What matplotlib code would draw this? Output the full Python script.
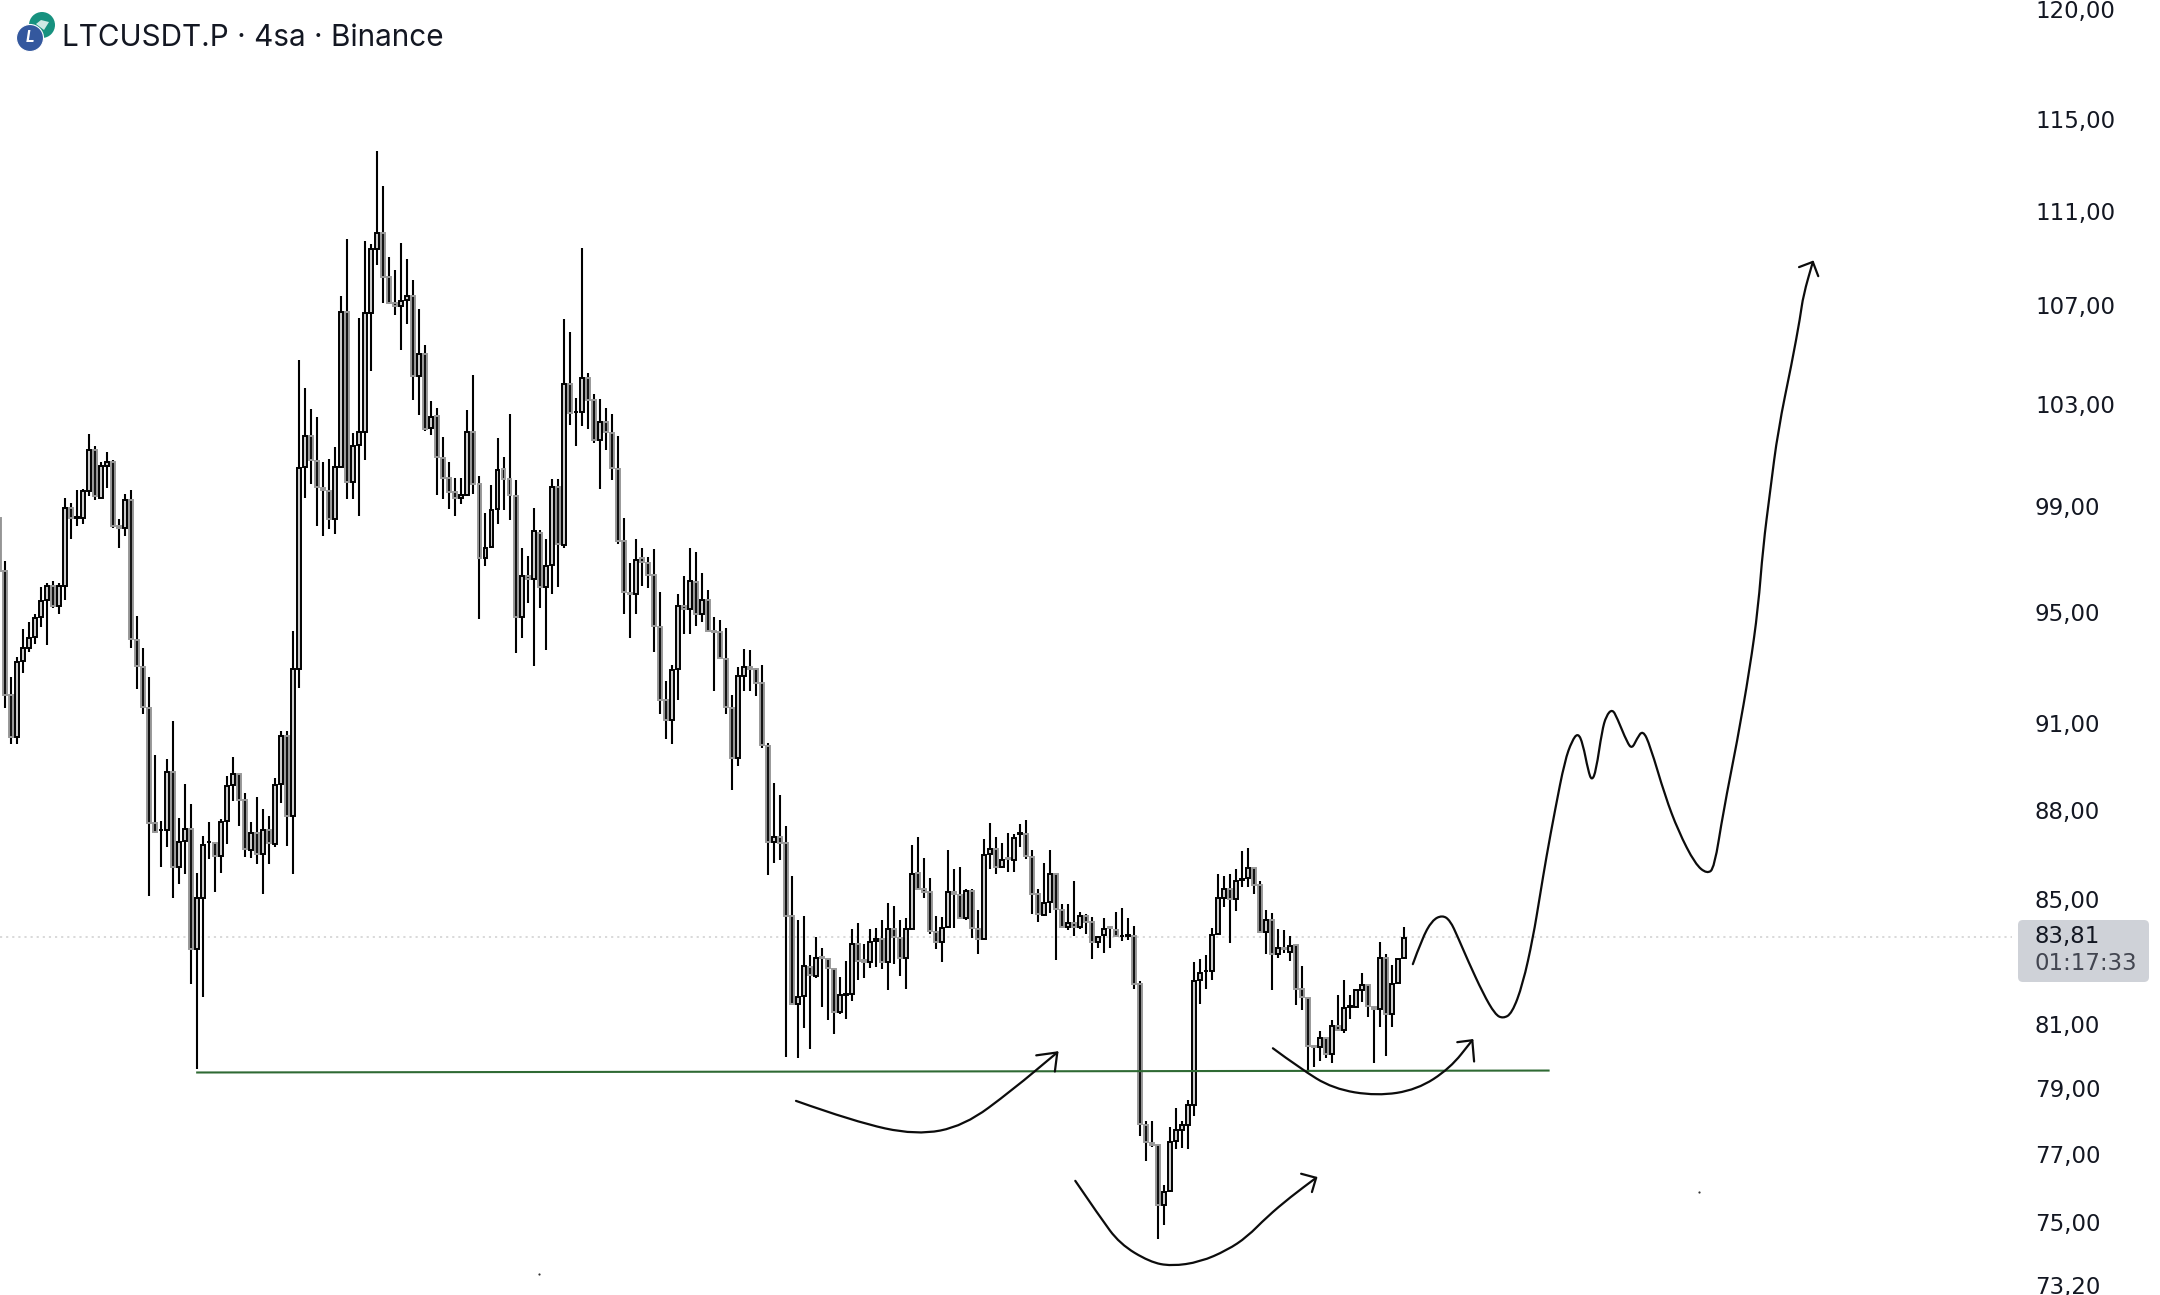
import numpy as np
import matplotlib
matplotlib.use("Agg")
import matplotlib.pyplot as plt
from matplotlib.patches import Circle, FancyBboxPatch, PathPatch, Polygon
from matplotlib.path import Path
from matplotlib.ticker import NullLocator
from matplotlib.transforms import IdentityTransform, ScaledTranslation

W, H = 2160, 1295

TITLE = "LTCUSDT.P · 4sa · Binance"
TICKS = [120, 115, 111, 107, 103, 99, 95, 91, 88, 85, 81, 79, 77, 75, 73.2]
TICK_LABELS = ["120,00", "115,00", "111,00", "107,00", "103,00", "99,00", "95,00", "91,00",
               "88,00", "85,00", "81,00", "79,00", "77,00", "75,00", "73,20"]
LAST_PRICE = 83.81
LAST_PRICE_LABEL = "83,81"
COUNTDOWN = "01:17:33"

# first bar sits half off the left edge, then bars 0..233
opens = [98.61,
    96.60,92.06,90.58,93.29,93.76,94.16,94.89,95.51,96.04,95.29,
    96.04,98.99,98.61,98.61,99.64,101.22,99.37,100.59,100.74,98.30,
    98.23,99.29,94.05,93.07,91.60,87.60,87.37,87.37,89.36,86.12,
    87.00,87.40,83.42,85.08,86.96,86.93,86.49,87.67,88.90,89.29,
    88.38,86.69,87.27,86.56,87.37,86.89,88.94,90.62,87.84,92.99,
    100.55,101.77,100.78,99.76,99.64,98.57,100.55,106.77,99.96,101.41,
    101.92,106.73,109.43,110.11,108.24,107.14,107.02,107.30,107.43,104.16,
    105.06,102.08,102.55,100.90,100.15,99.60,99.37,99.48,101.92,99.92,
    97.06,97.51,98.95,100.47,100.11,99.44,94.89,96.41,96.30,98.04,
    96.00,96.83,99.80,97.55,103.85,102.71,102.71,104.08,103.22,101.61,
    102.35,101.88,100.47,97.70,95.77,95.73,97.06,96.90,96.45,94.53,
    91.88,91.18,92.99,95.29,95.18,96.19,95.00,95.51,94.38,94.34,
    93.36,91.60,89.85,92.75,93.07,93.00,92.49,90.27,86.96,87.13,
    86.93,84.49,81.68,81.93,82.84,82.55,83.16,83.10,82.78,81.43,
    81.97,82.00,83.59,83.07,83.00,83.68,83.75,83.00,84.07,83.78,
    83.13,84.07,85.92,85.38,85.28,83.98,83.65,84.14,85.28,85.18,
    84.43,85.31,84.07,83.75,86.56,86.73,86.12,86.42,86.36,87.23,
    87.23,86.46,85.21,84.53,84.95,85.89,84.69,84.14,84.27,84.14,
    84.49,84.30,83.65,83.88,84.14,84.04,83.84,83.84,83.84,82.29,
    77.94,77.40,77.34,75.54,75.96,77.46,77.79,77.94,78.54,82.42,
    82.71,82.71,83.91,85.11,85.38,85.05,85.68,85.75,86.09,85.52,
    83.98,84.36,83.26,83.46,83.33,83.55,82.13,81.87,80.34,80.31,
    80.59,80.09,80.99,80.84,81.58,81.58,82.10,82.26,81.58,81.52,
    83.13,81.34,82.35,83.13]

closes = [96.60,
    92.06,90.58,93.26,93.76,94.13,94.85,95.47,96.04,95.29,96.04,
    98.99,98.61,98.62,99.64,101.22,99.44,100.59,100.74,98.30,98.23,
    99.29,94.09,93.11,91.63,87.60,87.30,87.38,89.36,86.12,86.96,
    87.40,83.42,85.08,86.86,86.97,86.49,87.63,88.87,89.29,88.38,
    86.73,87.27,86.56,87.37,86.93,88.90,90.62,87.84,92.99,100.51,
    101.77,100.82,99.80,99.68,98.57,100.55,106.77,99.96,101.37,101.92,
    106.73,109.43,110.11,108.24,107.14,107.02,107.26,107.43,104.16,105.06,
    102.04,102.51,100.94,100.15,99.60,99.37,99.48,101.92,99.92,97.06,
    97.47,98.91,100.43,100.11,99.48,94.89,96.41,96.30,98.08,96.00,
    96.79,99.80,97.59,103.85,102.67,102.72,104.08,103.22,101.61,102.35,
    101.92,100.51,97.70,95.81,95.73,97.02,96.94,96.45,94.56,91.88,
    91.18,92.96,95.29,95.18,96.22,95.00,95.51,94.38,94.34,93.40,
    91.63,89.85,92.75,93.07,93.00,92.49,90.30,86.96,87.13,86.93,
    84.49,81.68,81.90,82.87,82.58,83.13,83.13,82.81,81.43,81.97,
    82.00,83.59,83.04,83.00,83.65,83.75,83.00,84.07,83.81,83.13,
    84.07,85.89,85.38,85.28,84.01,83.65,84.11,85.28,85.21,84.43,
    85.31,84.11,83.75,86.52,86.73,86.12,86.36,86.39,87.09,87.27,
    86.49,85.21,84.56,84.92,85.89,84.72,84.14,84.27,84.14,84.49,
    84.30,83.65,83.81,84.07,84.11,83.84,83.85,83.88,82.29,77.97,
    77.43,77.34,75.54,75.93,77.43,77.79,77.94,78.54,82.39,82.65,
    82.72,83.88,85.08,85.38,85.05,85.65,85.72,86.09,85.52,83.98,
    84.36,83.26,83.46,83.42,83.52,82.16,81.90,80.34,80.31,80.59,
    80.09,80.99,80.84,81.55,81.62,82.10,82.26,81.62,81.52,83.13,
    81.34,82.32,83.10,83.78]

highs = [98.61,
    96.98,92.71,93.41,94.45,94.71,95.00,96.00,96.15,96.22,96.15,
    99.37,99.17,99.68,99.72,101.85,101.37,100.74,101.14,100.82,98.57,
    99.53,99.68,94.93,93.76,92.71,89.95,87.67,89.81,91.14,87.77,
    88.94,88.24,85.92,87.16,87.63,86.93,87.74,89.21,89.88,89.29,
    88.62,87.63,88.48,88.07,87.84,89.15,90.79,90.79,94.38,104.81,
    103.67,102.83,102.51,100.74,100.86,101.33,107.47,109.85,101.88,106.53,
    109.77,109.64,113.68,112.15,109.09,108.54,109.68,109.00,108.11,106.89,
    105.42,103.18,102.90,101.73,100.74,100.15,100.15,102.79,104.20,100.22,
    98.80,99.88,101.69,100.94,102.63,100.04,97.47,97.17,98.99,98.15,
    97.78,100.08,100.08,106.49,105.95,103.30,109.47,104.28,103.46,103.26,
    102.87,102.63,101.77,98.61,96.90,97.81,97.44,97.13,97.40,95.81,
    92.57,93.14,95.73,96.41,97.47,97.29,96.53,95.88,94.89,94.78,
    94.49,92.06,93.07,93.73,93.69,93.04,93.14,90.37,88.97,88.55,
    87.50,85.82,84.36,84.49,83.23,83.81,83.46,83.10,82.78,82.52,
    83.04,84.07,84.27,83.59,84.07,84.11,84.36,84.92,84.82,84.36,
    84.43,86.86,87.13,86.42,85.75,84.49,84.46,86.69,86.05,86.12,
    85.38,85.38,84.69,87.06,87.60,87.13,86.93,87.27,87.23,87.57,
    87.70,86.69,85.38,86.26,86.69,85.89,84.88,84.88,85.65,84.62,
    84.56,84.46,83.84,84.43,84.14,84.62,84.75,84.43,84.17,82.39,
    78.06,78.06,77.34,76.14,77.88,78.45,78.06,78.69,83.00,83.10,
    83.23,84.11,85.89,85.82,85.89,86.05,86.66,86.76,86.09,85.65,
    84.69,84.59,84.07,84.04,83.84,83.55,82.87,81.87,80.34,80.81,
    80.59,81.18,81.97,82.42,81.97,82.10,82.65,82.26,81.58,83.65,
    83.26,82.91,83.10,84.14]

lows = [96.60,
    91.60,90.34,90.34,92.86,93.62,93.91,94.53,93.87,95.22,95.00,
    95.51,97.78,98.30,98.38,99.44,99.29,99.37,99.76,98.23,97.44,
    97.89,93.76,92.28,91.39,85.15,87.27,86.12,86.79,85.08,85.55,
    85.89,82.29,79.63,81.90,86.39,85.28,85.92,86.89,88.34,87.50,
    86.46,86.42,86.22,85.21,86.22,86.79,88.27,86.83,85.89,92.31,
    99.37,99.92,98.30,97.89,98.19,98.00,100.51,99.33,99.33,98.68,
    100.82,104.36,108.75,107.14,107.10,106.65,105.22,106.28,103.22,102.59,
    101.96,101.80,99.48,99.33,98.95,98.68,99.14,99.44,99.52,94.82,
    96.79,97.44,98.38,98.91,98.53,93.58,94.13,95.40,93.11,95.22,
    93.69,95.73,96.00,97.47,102.20,101.37,102.16,102.04,101.49,99.72,
    101.22,100.04,97.59,95.00,94.13,95.00,96.04,95.96,93.62,91.39,
    90.51,90.34,91.88,94.27,94.27,94.56,94.71,94.38,92.20,93.36,
    91.39,88.73,89.57,92.20,92.20,92.02,90.20,85.85,86.26,86.36,
    80.00,81.65,79.97,80.90,80.25,82.49,81.58,81.18,80.71,81.34,
    81.21,81.77,82.42,82.49,82.81,82.84,82.78,82.10,82.94,82.55,
    82.16,84.07,85.38,85.11,83.91,83.42,83.00,84.11,84.11,84.40,
    84.36,83.78,83.26,83.75,86.05,85.89,86.09,85.95,85.95,86.79,
    86.39,84.56,84.30,84.49,84.59,83.07,84.11,84.04,83.84,84.07,
    83.91,83.10,83.46,83.29,83.46,83.81,83.68,83.71,82.16,77.61,
    76.86,77.28,74.56,74.97,75.93,77.22,77.25,77.22,78.21,81.68,
    82.16,82.42,83.88,84.79,83.62,84.66,85.45,85.45,85.21,83.94,
    83.26,82.10,83.13,83.29,83.04,81.65,81.49,79.56,79.69,79.87,
    79.97,79.81,80.81,80.75,81.21,81.58,81.74,81.27,79.81,80.93,
    80.03,80.93,82.32,83.10]

# horizontal support line
support_x = [32, 257]
support_y = [79.53, 79.59]

# hand drawn forecast, bar position / price
forecast_x = [234.4,235.9,237.6,239.3,240.6,241.9,243.6,246.1,248.1,249.4,250.9,252.7,254.4,255.6,
    256.6,258.1,259.7,260.9,261.9,262.7,263.6,264.2,264.9,265.9,266.6,267.6,268.4,270.1,270.9,
    271.7,272.7,273.9,276.4,278.6,281.4,283.4,284.6,286.1,288.4,290.5,291.9,292.7,293.9,295.2,
    297.5,298.9,299.4,301.0]
forecast_y = [82.94,83.75,84.36,84.53,84.36,83.81,83.04,82.00,81.34,81.21,81.37,82.29,83.78,85.21,
    86.42,88.07,89.74,90.44,90.72,90.34,89.39,89.04,89.39,90.79,91.32,91.56,91.25,90.37,90.16,
    90.51,90.82,90.27,88.52,87.33,86.22,85.89,86.09,88.00,90.41,93.00,95.22,97.47,99.64,102.00,
    104.69,106.57,107.47,108.88]
forecast_head_x = [298.7, 301.0, 301.9]
forecast_head_y = [108.66, 108.88, 108.28]

swing1_x = [131.7,141.4,151.7,159.7,167.8,175.2]
swing1_y = [78.66,78.03,77.62,77.90,79.00,80.15]
swing1_head_x = [171.7, 175.2, 174.8]
swing1_head_y = [80.06, 80.15, 79.56]

swing2_x = [178.2,182.3,185.6,190.6,194.2,199.0,203.5,206.8,210.1,214.0,218.3]
swing2_y = [76.26,75.20,74.42,73.90,73.78,73.90,74.24,74.62,75.20,75.78,76.35]
swing2_head_x = [215.8, 218.3, 217.6]
swing2_head_y = [76.47, 76.35, 75.93]

swing3_x = [211.1,215.6,221.1,228.4,235.1,240.6,244.3]
swing3_y = [80.28,79.66,79.03,78.81,79.00,79.66,80.53]
swing3_head_x = [241.8, 244.3, 244.6]
swing3_head_y = [80.47, 80.53, 79.87]

specks_x = [88.9, 282.1]
specks_y = [73.57, 75.93]


def smooth_stroke(ax, xs, ys):
	# quadratic curve through the midpoints so the pen line has no corners
	pts = list(zip(xs, ys))
	verts = [pts[0]]
	codes = [Path.MOVETO]
	for i in range(1, len(pts) - 1):
		mid = ((pts[i][0] + pts[i + 1][0]) / 2, (pts[i][1] + pts[i + 1][1]) / 2)
		verts += [pts[i], mid]
		codes += [Path.CURVE3, Path.CURVE3]
	verts.append(pts[-1])
	codes.append(Path.LINETO)
	ax.add_patch(PathPatch(Path(verts, codes), fill=False, edgecolor="#0c0c0c", linewidth=1.6,
		capstyle="round", joinstyle="round", zorder=6))


def draw_candles(ax):
	xs = np.arange(-1, len(opens) - 1)
	o = np.array(opens)
	c = np.array(closes)
	up = c >= o
	ax.vlines(xs, lows, highs, color="#000000", linewidth=1.5, zorder=2)
	bottoms = np.minimum(o, c)
	heights = np.abs(c - o)
	ax.bar(xs[up], heights[up], bottom=bottoms[up], width=0.66, facecolor="#cccccc",
		edgecolor="#000000", linewidth=1.4, zorder=3)
	ax.bar(xs[~up], heights[~up], bottom=bottoms[~up], width=0.66, facecolor="#141414",
		edgecolor="#999999", linewidth=1.4, zorder=3)


def draw_header(fig):
	px = IdentityTransform()
	fig.add_artist(Circle((42, H - 25), 13, facecolor="#17917f", edgecolor="none", transform=px))
	fig.add_artist(Polygon([(36, H - 24), (41, H - 20), (49, H - 22), (44, H - 30)], closed=True,
		facecolor="#cfe9e4", edgecolor="none", transform=px))
	fig.add_artist(Circle((30, H - 38), 13.5, facecolor="#34589e", edgecolor="white", linewidth=0.8, transform=px))
	fig.text(30 / W, 1 - 38 / H, "L", color="white", fontsize=11, fontweight="bold", fontstyle="italic",
		ha="center", va="center")
	fig.text(62 / W, 1 - 38 / H, TITLE, color="#131722", fontsize=21.4, ha="left", va="center")


def draw_badge(fig):
	px = IdentityTransform()
	fig.add_artist(FancyBboxPatch((2021, H - 979), 125, 56, boxstyle="round,pad=3,rounding_size=5",
		facecolor="#cfd2d8", edgecolor="none", transform=px))
	fig.text(2035 / W, 1 - 937 / H, LAST_PRICE_LABEL, color="#131722", fontsize=16.5,
		family="DejaVu Sans", ha="left", va="center")
	fig.text(2035 / W, 1 - 963 / H, COUNTDOWN, color="#434651", fontsize=16.5,
		family="DejaVu Sans", ha="left", va="center")


def main():
	plt.rcParams["font.family"] = ["Inter", "DejaVu Sans"]
	fig = plt.figure(figsize=(W / 100, H / 100), dpi=100, facecolor="white")
	ax = fig.add_axes([0, 0, 1, 1], facecolor="white")

	ax.set_yscale("log")
	ax.set_xlim(-0.8325, 358.8)
	ax.set_ylim(72.96, 120.51)
	ax.yaxis.set_minor_locator(NullLocator())
	ax.yaxis.set_major_locator(plt.FixedLocator(TICKS))
	ax.set_yticklabels(TICK_LABELS)
	ax.yaxis.tick_right()
	ax.tick_params(axis="y", length=0, pad=-90, labelsize=16.5, labelcolor="#131722")
	up_a_bit = ScaledTranslation(0, 1.5 / 100, fig.dpi_scale_trans)
	for lab in ax.get_yticklabels():
		lab.set_family("DejaVu Sans")
		lab.set_transform(lab.get_transform() + up_a_bit)
	ax.set_xticks([])
	for s in ax.spines.values():
		s.set_visible(False)

	ax.hlines(LAST_PRICE, -0.8325, 334.2, color="#d0d0d0", linewidth=1.1,
		linestyle=(0, (1.4, 2.6)), zorder=1)
	draw_candles(ax)
	ax.plot(support_x, support_y, color="#2f6a34", linewidth=1.5, zorder=5)

	smooth_stroke(ax, forecast_x, forecast_y)
	smooth_stroke(ax, swing1_x, swing1_y)
	smooth_stroke(ax, swing2_x, swing2_y)
	smooth_stroke(ax, swing3_x, swing3_y)
	for hx, hy in [(forecast_head_x, forecast_head_y), (swing1_head_x, swing1_head_y),
			(swing2_head_x, swing2_head_y), (swing3_head_x, swing3_head_y)]:
		ax.plot(hx, hy, color="#0c0c0c", linewidth=1.6, solid_capstyle="round", zorder=6)
	ax.scatter(specks_x, specks_y, s=2.5, color="#333333", linewidths=0, zorder=2)

	draw_header(fig)
	draw_badge(fig)

	fig.savefig("out.png", dpi=100, facecolor="white")
	plt.close(fig)


if __name__ == "__main__":
	main()
